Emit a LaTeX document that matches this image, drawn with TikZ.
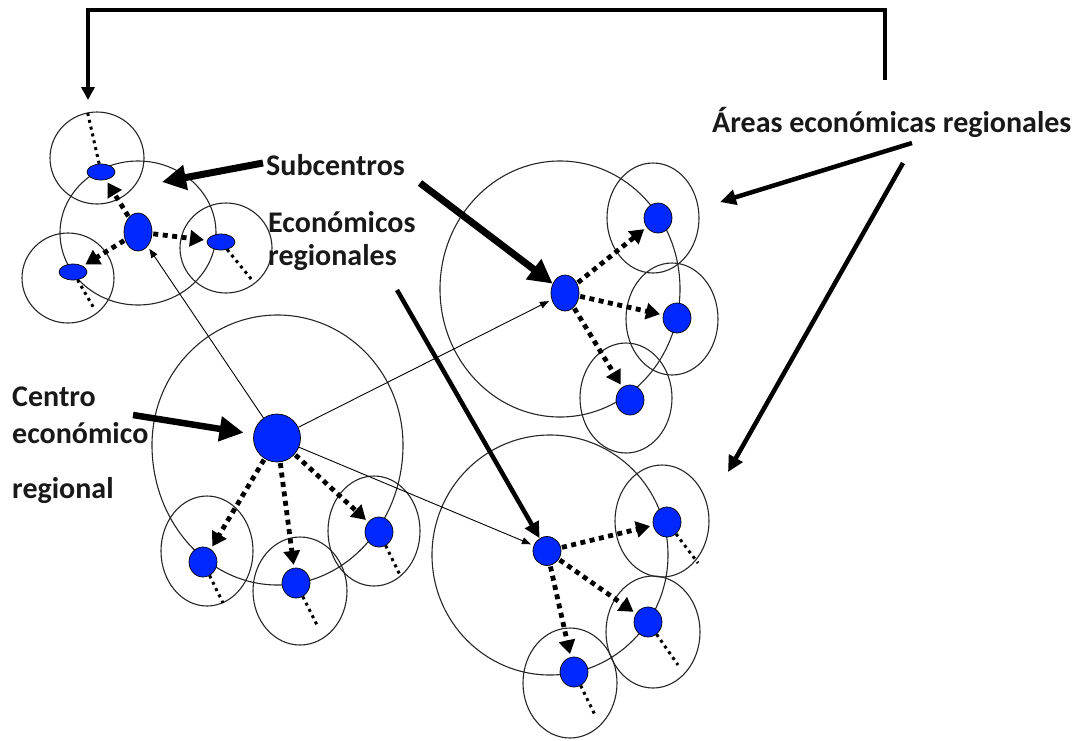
\documentclass[tikz,border=0pt]{standalone}
\usepackage{fontspec}
\setmainfont{Carlito}
\usetikzlibrary{arrows.meta,shapes.geometric}
\definecolor{nodeblue}{RGB}{0,40,255}
\begin{document}
\begin{tikzpicture}[x=1pt,y=-1pt,
  region/.style={draw=black!85, line width=1.1pt},
  hub/.style={ellipse, draw=black, line width=0.7pt, fill=nodeblue, inner sep=0pt},
  subnode/.style={hub, minimum width=28pt, minimum height=30pt},
  flatnode/.style={hub, minimum width=28pt, minimum height=16pt},
  dotarrow/.style={line width=4.8pt, dash pattern=on 5pt off 4.5pt, -{Triangle[length=14pt,width=16pt]}, shorten >=3pt, shorten <=1pt},
  tailline/.style={line width=3pt, dash pattern=on 3pt off 4pt},
  thinarrow/.style={line width=0.9pt, -{Triangle[length=9pt,width=7pt]}, shorten >=3pt},
  bigarrow/.style={line width=7pt, -{Triangle[length=24pt,width=24pt]}},
  midarrow/.style={line width=4.5pt, -{Triangle[length=16pt,width=15pt]}},
  lbl/.style={font=\fontsize{30}{36}\selectfont\bfseries, anchor=base west, inner sep=0pt, text=black!90}
]
\useasboundingbox (0,0) rectangle (1084,740);

% ---------------- regions ----------------
% top-left cluster
\draw[region] (138,233) ellipse[x radius=78pt, y radius=72pt];
\draw[region] (97,158) ellipse[x radius=47pt, y radius=46pt];
\draw[region] (226,248) ellipse[x radius=46pt, y radius=45pt];
\draw[region] (68,278) ellipse[x radius=46pt, y radius=45pt];
% top-right cluster
\draw[region] (560,289) ellipse[x radius=120pt, y radius=128pt];
\draw[region] (653,218) ellipse[x radius=46pt, y radius=55pt];
\draw[region] (672,319) ellipse[x radius=46pt, y radius=56pt];
\draw[region] (626,398) ellipse[x radius=46pt, y radius=55pt];
% bottom-left cluster
\draw[region] (403,445) arc[start angle=0,end angle=180,x radius=125.5pt,y radius=130pt]
  arc[start angle=180,end angle=360,x radius=125.5pt,y radius=140pt] -- cycle;
\draw[region] (207,551) ellipse[x radius=46pt, y radius=55pt];
\draw[region] (300,591) ellipse[x radius=47pt, y radius=54pt];
\draw[region] (374,531) ellipse[x radius=46pt, y radius=55pt];
% bottom-right cluster
\draw[region] (550,555) ellipse[x radius=118pt, y radius=120pt];
\draw[region] (662,521) ellipse[x radius=47pt, y radius=56pt];
\draw[region] (653,632) ellipse[x radius=47pt, y radius=56pt];
\draw[region] (570,683) ellipse[x radius=47pt, y radius=55pt];

% ---------------- nodes ----------------
\node[hub, minimum width=28pt, minimum height=38pt] (tlc) at (138,232) {};
\node[flatnode] (tl1) at (101,172) {};
\node[flatnode] (tl2) at (221,242) {};
\node[flatnode] (tl3) at (73,272) {};

\node[hub, minimum width=28pt, minimum height=36pt] (trc) at (565,293) {};
\node[subnode] (tr1) at (658,218) {};
\node[subnode] (tr2) at (677,318) {};
\node[subnode] (tr3) at (630,400) {};

\node[hub, minimum width=47pt, minimum height=48pt] (blc) at (277,438) {};
\node[subnode] (bl1) at (203,562) {};
\node[subnode] (bl2) at (296,583) {};
\node[subnode] (bl3) at (379,532) {};

\node[subnode, minimum height=29pt] (brc) at (547,551) {};
\node[subnode] (br1) at (667,522) {};
\node[subnode] (br2) at (648,622) {};
\node[subnode] (br3) at (574,672) {};

% tail ends
\coordinate (tl1e) at (87,110);
\coordinate (tl2e) at (252,280);
\coordinate (tl3e) at (95,310);
\coordinate (bl1e) at (223,603);
\coordinate (bl2e) at (317,625);
\coordinate (bl3e) at (400,575);
\coordinate (br1e) at (698,563);
\coordinate (br2e) at (678,665);
\coordinate (br3e) at (595,715);

\foreach \n in {tl1,tl2,tl3,bl1,bl2,bl3,br1,br2,br3}
  \draw[tailline] (\n) -- (\n e);

% dotted arrows
\foreach \c/\s in {tlc/tl1,tlc/tl2,tlc/tl3,trc/tr1,trc/tr2,trc/tr3,blc/bl1,blc/bl2,blc/bl3,brc/br1,brc/br2,brc/br3}
  \draw[dotarrow] (\c) -- (\s);

% thin arrows from centre
\draw[thinarrow] (blc) -- (tlc);
\draw[thinarrow] (blc) -- (trc);
\draw[thinarrow] (blc) -- (brc);

% ---------------- labels ----------------
\node[lbl] (sub) at (266,175) {Subcentros};
\node[lbl] (eco) at (268,232) {Económicos};
\node[lbl] (reg) at (268,265) {regionales};
\node[lbl] (cen1) at (12,406) {Centro};
\node[lbl] (cen2) at (12,443) {económico};
\node[lbl] (cen3) at (12,498) {regional};
\node[lbl] (areas) at (712,132) {Áreas económicas regionales};

\coordinate (subTail) at (263,163);
\coordinate (subTip) at (162,182);
\coordinate (ecoTail) at (420,183);
\coordinate (regTail) at (397,290);
\coordinate (cenTail) at (133,415);
\coordinate (a1Tail) at (912,143);
\coordinate (a1Tip) at (720,202);
\coordinate (a2Tail) at (903,163);
\coordinate (a2Tip) at (728,472);

\draw[bigarrow] (subTail) -- (subTip);
\draw[bigarrow] (ecoTail) -- (trc);
\draw[midarrow] (regTail) -- (brc);
\draw[bigarrow, line width=6.5pt, shorten >=10pt] (cenTail) -- (blc);
\draw[midarrow] (a1Tail) -- (a1Tip);
\draw[midarrow] (a2Tail) -- (a2Tip);

% bracket
\coordinate (brA) at (885,80);
\coordinate (brB) at (885,10);
\coordinate (brC) at (88,10);
\coordinate (brD) at (88,100);
\draw[line width=4pt, -{Triangle[length=13pt,width=13pt]}] (brA) -- (brB) -- (brC) -- (brD);
\end{tikzpicture}
\end{document}
